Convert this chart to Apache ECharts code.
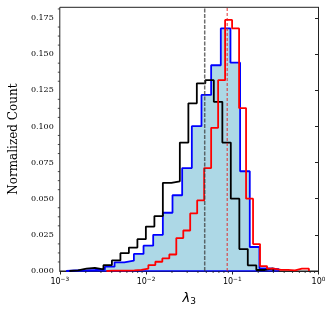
<!DOCTYPE html>
<html><head><meta charset="utf-8">
<script src="https://cdn.jsdelivr.net/npm/echarts@6/dist/echarts.min.js"></script>
<style>html,body{margin:0;padding:0;background:#fff}#c{width:332px;height:311px}</style>
</head><body><div id="c"></div>
<script>
// bin edges in log10(lambda_3)
const blackLogEdges = [-2.888,-2.790,-2.691,-2.593,-2.494,-2.396,-2.297,-2.199,-2.100,-2.002,-1.903,-1.805,-1.706,-1.608,-1.509,-1.411,-1.312,-1.214,-1.115,-1.017,-0.918,-0.820,-0.721,-0.623,-0.524];
const blackCounts = [0.0005,0.0016,0.0022,0.0012,0.0040,0.0073,0.0123,0.0162,0.0220,0.0307,0.0380,0.0610,0.0620,0.0888,0.1160,0.1298,0.1320,0.1170,0.0888,0.0500,0.0152,0.0039,0.0007,0.0018];
const blueLogEdges = [-2.925,-2.813,-2.701,-2.589,-2.477,-2.365,-2.253,-2.141,-2.029,-1.917,-1.805,-1.693,-1.581,-1.469,-1.357,-1.245,-1.133,-1.021,-0.909,-0.797,-0.685,-0.573,-0.461];
const blueCounts = [0.0004,0.0005,0.0007,0.0010,0.0030,0.0060,0.0071,0.0118,0.0175,0.0250,0.0403,0.0524,0.0712,0.1002,0.1218,0.1423,0.1678,0.1441,0.0690,0.0166,0.0018,0.0012];
const redLogEdges = [-2.459,-2.378,-2.297,-2.216,-2.135,-2.054,-1.973,-1.892,-1.811,-1.730,-1.649,-1.568,-1.488,-1.407,-1.326,-1.245,-1.164,-1.083,-1.002,-0.921,-0.840,-0.759,-0.678,-0.597,-0.516,-0.435,-0.354,-0.273,-0.192,-0.111];
const redCounts = [0.0003,0.0003,0.0003,0.0005,0.0008,0.0016,0.0041,0.0064,0.0087,0.0114,0.0228,0.0280,0.0398,0.0488,0.0712,0.0990,0.1320,0.1737,0.1678,0.1127,0.0500,0.0186,0.0034,0.0016,0.0008,0.0008,0.0005,0.0016,0.0016];
const blackMedian = 0.0479;
const redMedian = 0.0873;
const xTickExps = [-3,-2,-1,0];
const yTickVals = [0,0.025,0.05,0.075,0.1,0.125,0.15,0.175];
const yMax = 0.1824;

function stepPoints(edges, counts){
  const pts=[[edges[0],0]];
  for(let i=0;i<counts.length;i++){pts.push([edges[i],counts[i]]);pts.push([edges[i+1],counts[i]]);}
  pts.push([edges[counts.length],0]);
  return pts;
}
const tickData=[];
for(let k=xTickExps[0];k<xTickExps[xTickExps.length-1];k++){for(let m=2;m<=9;m++){tickData.push([Math.log10(m)+k,0,0]);}}
for(let i=0;i<yTickVals.length;i++){
  const step=0.025/4;
  for(let j=1;j<4;j++){const v=yTickVals[i]+j*step; if(v<yMax) tickData.push([-3,v,1]);}
}
const chart=echarts.init(document.getElementById('c'),null,{renderer:'canvas'});
const serif='DejaVu Serif', sans='DejaVu Sans';
function vline(val,color,width,dash,z){
  return {type:'line',data:[[Math.log10(val),0],[Math.log10(val),yMax]],showSymbol:false,silent:true,
    lineStyle:{color:color,width:width,type:dash},z:z};
}
chart.setOption({
  animation:false,
  grid:{left:50,right:13.5,top:7.3,bottom:36,show:true,borderColor:'#222',borderWidth:1,backgroundColor:'transparent'},
  xAxis:{type:'value',min:-3,max:0,interval:1,
    axisLine:{show:true,lineStyle:{color:'#222',width:1}},
    axisTick:{show:true,length:3.5,lineStyle:{color:'#222',width:1}},
    splitLine:{show:false},
    axisLabel:{margin:5,color:'#000',
      formatter:v=>'{b|10}{s|'+(v===0?'0':'\u2212'+(-v))+'}',
      rich:{b:{fontFamily:sans,fontSize:8,color:'#000'},s:{fontFamily:sans,fontSize:5.8,color:'#000',padding:[0,0,5,0]}}},
    name:'{a|\u03bb}{b|3}',nameLocation:'middle',nameGap:20,
    nameTextStyle:{rich:{a:{fontFamily:sans,fontStyle:'italic',fontSize:13,color:'#000'},b:{fontFamily:sans,fontSize:9,color:'#000',padding:[6,0,0,0]}}}
  },
  yAxis:{type:'value',min:0,max:yMax,interval:0.025,
    axisLine:{show:true,lineStyle:{color:'#222',width:1}},
    axisTick:{show:true,length:3.5,customValues:yTickVals,lineStyle:{color:'#222',width:1}},
    splitLine:{show:false},
    axisLabel:{margin:6,customValues:yTickVals,fontFamily:serif,fontSize:8,color:'#000',formatter:v=>v.toFixed(3)},
    name:'Normalized Count',nameLocation:'middle',nameGap:39,nameRotate:90,
    nameTextStyle:{fontFamily:serif,fontSize:12,color:'#000'}
  },
  series:[
    {type:'line',data:stepPoints(blueLogEdges,blueCounts),showSymbol:false,
      lineStyle:{color:'#0000ff',width:1.8},areaStyle:{color:'#add8e6',opacity:1},z:2},
    {type:'line',data:[[blueLogEdges[0],0],[blueLogEdges[blueLogEdges.length-1],0]],showSymbol:false,
      lineStyle:{color:'#0000ff',width:1.5},z:2},
    {type:'line',data:stepPoints(blackLogEdges,blackCounts),showSymbol:false,
      lineStyle:{color:'#000',width:1.8},z:3},
    {type:'line',data:stepPoints(redLogEdges,redCounts),showSymbol:false,
      lineStyle:{color:'#ff0000',width:1.8},z:4},
    vline(blackMedian,'rgba(60,60,60,0.75)',1.5,[4,1.5],6),
    vline(redMedian,'rgba(225,30,30,0.9)',1,[3,2],6),
    {type:'custom',data:tickData,clip:false,silent:true,z:5,
      renderItem:(params,api)=>{
        const kind=api.value(2);
        const p=api.coord([api.value(0),api.value(1)]);
        if(kind===0){return {type:'line',shape:{x1:p[0],y1:p[1],x2:p[0],y2:p[1]+2},style:{stroke:'#222',lineWidth:0.8}};}
        return {type:'line',shape:{x1:p[0]-2,y1:p[1],x2:p[0],y2:p[1]},style:{stroke:'#222',lineWidth:0.8}};
      }}
  ]
});
</script></body></html>
